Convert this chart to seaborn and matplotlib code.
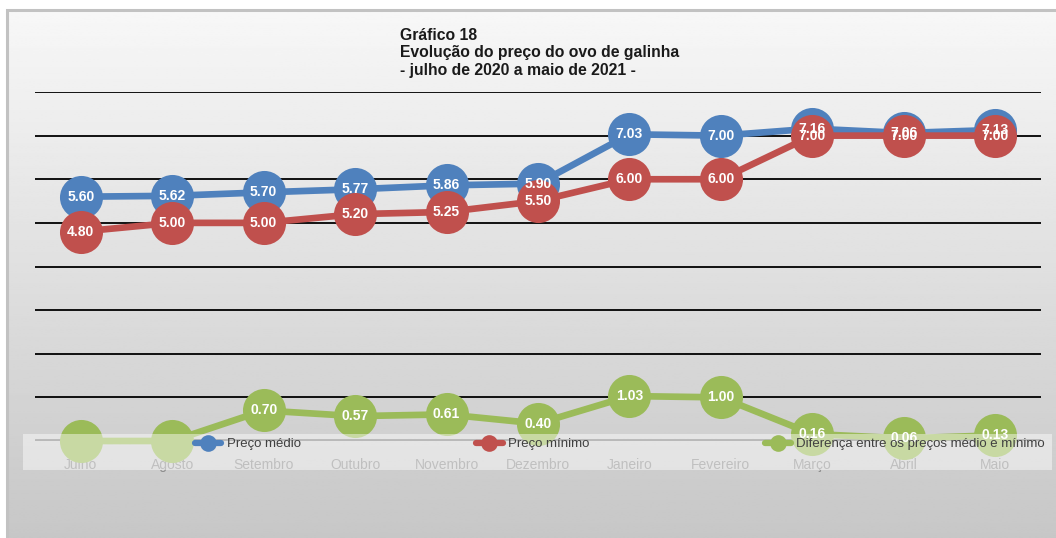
import numpy as np
import pandas as pd
import seaborn as sns
import matplotlib
matplotlib.use("Agg")
import matplotlib.pyplot as plt
from matplotlib.lines import Line2D
from matplotlib.patches import Rectangle

months = ["Julho", "Agosto", "Setembro", "Outubro", "Novembro", "Dezembro",
          "Janeiro", "Fevereiro", "Março", "Abril", "Maio"]
preco_medio = [5.60, 5.62, 5.70, 5.77, 5.86, 5.90, 7.03, 7.00, 7.16, 7.06, 7.13]
preco_minimo = [4.80, 5.00, 5.00, 5.20, 5.25, 5.50, 6.00, 6.00, 7.00, 7.00, 7.00]
diferenca = [0.00, 0.00, 0.70, 0.57, 0.61, 0.40, 1.03, 1.00, 0.16, 0.06, 0.13]
diferenca_labels = ["", "", "0.70", "0.57", "0.61", "0.40", "1.03", "1.00", "0.16", "0.06", "0.13"]
series_names = ["Preço médio", "Preço mínimo", "Diferença entre os preços médio e mínimo"]
colors = ["#4f81bd", "#c0504d", "#9bbb59"]
title_lines = ["Gráfico 18", "Evolução do preço do ovo de galinha", "- julho de 2020 a maio de 2021 -"]

sns.set_style("white")
plt.rcParams["font.family"] = ["Liberation Sans", "DejaVu Sans"]

W, H = 1056, 538
fig = plt.figure(figsize=(W / 100, H / 100), dpi=100)
fig.patch.set_facecolor("white")

# background gradient panel
bg = fig.add_axes([0, 0, 1, 1], zorder=0)
grad = np.linspace(0.97, 0.78, 256).reshape(-1, 1)
grad = np.repeat(grad, 2, axis=1)
x0 = 7 / W
bg.imshow(grad, cmap="gray", vmin=0, vmax=1, aspect="auto",
          extent=[x0, 1, 0, 1 - 10 / H])
bg.set_xlim(0, 1)
bg.set_ylim(0, 1)
bg.add_patch(Rectangle((x0, -0.01), 1, 1 - 10 / H + 0.01, fill=False,
                       edgecolor="#c2c2c2", lw=2.2))
bg.axis("off")

ax = fig.add_axes([35 / W, 1 - 441 / H, (1041 - 35) / W, (441 - 92) / H], zorder=1)
ax.patch.set_alpha(0)

xs = np.arange(len(months))
df = pd.DataFrame({
    "x": np.tile(xs, 3),
    "y": preco_medio + preco_minimo + diferenca,
    "s": np.repeat(series_names, len(months)),
})

for i, name in enumerate(series_names):
    sub = df[df["s"] == name]
    sns.lineplot(data=sub, x="x", y="y", ax=ax, color=colors[i], lw=4.8,
                 marker="o", markersize=31, markeredgewidth=0,
                 legend=False, zorder=2 + i * 0.1, clip_on=False)

# data labels
for i, vals in enumerate([preco_medio, preco_minimo]):
    for x, v in zip(xs, vals):
        ax.text(x, v, f"{v:.2f}", ha="center", va="center", color="white",
                fontsize=10, fontweight="bold", zorder=3 + i * 0.1)
for x, v, lab in zip(xs, diferenca, diferenca_labels):
    ax.text(x, v, lab, ha="center", va="center", color="white",
            fontsize=10, fontweight="bold", zorder=3.2)

ax.set_xlim(-0.5, len(months) - 0.5)
ax.set_ylim(0, 8)
for yv in range(1, 9):
    ax.axhline(yv, color="black", lw=1.3, zorder=1)
ax.axhline(0, color="#808080", lw=3.5, zorder=1.5)
for s in ax.spines.values():
    s.set_visible(False)
ax.set_yticks([])
ax.set_xticks(xs)
ax.set_xticklabels(months, color="#8c8c8c", fontsize=10)
ax.tick_params(axis="x", length=0, pad=12)
ax.set_xlabel("")
ax.set_ylabel("")

# semi-transparent legend box
fig.patches.append(Rectangle((23 / W, 1 - 470 / H), (1052 - 23) / W, 36 / H,
                             transform=fig.transFigure, facecolor="white",
                             alpha=0.45, edgecolor="none", zorder=4))

handles = [Line2D([0], [0], color=c, lw=4.5, marker="o", markersize=12,
                  markeredgewidth=0) for c in colors]
leg = fig.legend(handles, series_names, loc="center left",
                 bbox_to_anchor=(195 / W, 1 - 444 / H), ncol=3, frameon=False,
                 fontsize=9.5, handlelength=2.0, handletextpad=0.4,
                 columnspacing=13.3, labelcolor="#404040",
                 borderaxespad=0, borderpad=0)
leg.set_zorder(5)

# title
for k, t in enumerate(title_lines):
    fig.text(400 / W, 1 - (35 + 17.5 * k) / H, t, ha="left", va="center",
             fontsize=11.3, fontweight="bold", color="#1a1a1a")

fig.savefig("out.png", dpi=100)
